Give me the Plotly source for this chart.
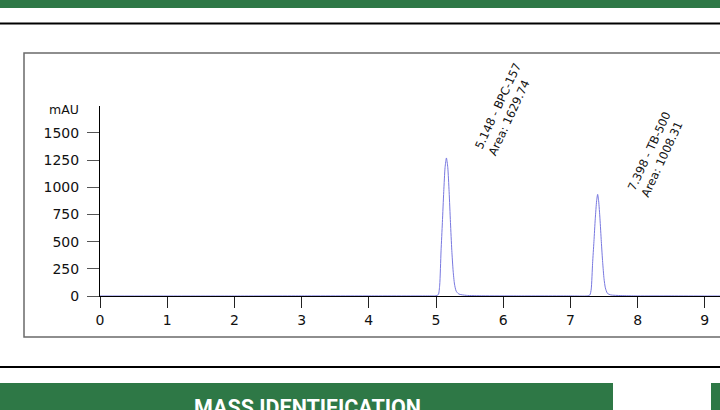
import plotly.graph_objects as go

# chromatogram trace (retention time in min, signal in mAU)
time_min = [0.0, 1.0, 2.0, 3.0, 4.0, 4.9, 5.0, 5.035, 5.055, 5.075, 5.095, 5.115, 5.135,
            5.155, 5.175, 5.195, 5.215, 5.235, 5.255, 5.275, 5.30, 5.34, 5.45, 5.7,
            6.2, 7.0, 7.25, 7.29, 7.31, 7.33, 7.35, 7.37, 7.39, 7.405, 7.42, 7.44,
            7.46, 7.48, 7.50, 7.52, 7.55, 7.60, 7.75, 8.0, 8.5, 9.0, 9.3]
signal_mau = [0, 0, 0, 1, 1, 1, 2, 14, 100, 415, 677, 960, 1184,
              1270, 1184, 960, 677, 420, 230, 110, 45, 18, 6, 2,
              1, 1, 1, 10, 65, 300, 500, 710, 875, 935, 875, 710,
              500, 310, 160, 75, 25, 10, 4, 1, 1, 0, 0]

# peak labels
peak_rt = [5.148, 7.398]
peak_name = ["BPC-157", "TB-500"]
peak_area = [1629.74, 1008.31]

x_ticks = [0, 1, 2, 3, 4, 5, 6, 7, 8, 9]
y_ticks = [0, 250, 500, 750, 1000, 1250, 1500]

W, H = 720, 410
L, R, T, B = 100, 0, 106, 114
X_MAX = 9.226
Y_MAX = 1748

GREEN = "#2e7846"
FONT = "DejaVu Sans"


def px(xp):
    # page pixel -> paper x
    return (xp - L) / (W - L - R)


def py(yp):
    # page pixel -> paper y
    return (H - B - yp) / (H - T - B)


fig = go.Figure()
fig.add_trace(go.Scatter(x=time_min, y=signal_mau, mode="lines",
                         line=dict(color="#7878e0", width=1, shape="spline", smoothing=0.6),
                         hoverinfo="x+y", showlegend=False))

# rotated peak annotations
label_pos = [(6.02, 1718), (8.27, 1305)]
for rt, name, area, (lx, ly) in zip(peak_rt, peak_name, peak_area, label_pos):
    fig.add_annotation(x=lx, y=ly, xref="x", yref="y", showarrow=False,
                       text=f"{rt:.3f} - {name}<br>Area: {area:.2f}",
                       textangle=-65, align="left",
                       font=dict(family=FONT, size=11.5, color="#111"))

fig.add_annotation(x=px(81), y=py(110), xref="paper", yref="paper", showarrow=False,
                   text="mAU", xanchor="right", yanchor="middle",
                   font=dict(family=FONT, size=12.5, color="#111"))

shapes = [
    # green band on top
    dict(type="rect", xref="paper", yref="paper", x0=px(-5), x1=px(730), y0=py(-5), y1=py(8),
         fillcolor=GREEN, line=dict(width=0), layer="below"),
    # rule lines
    dict(type="line", xref="paper", yref="paper", x0=px(0), x1=px(720), y0=py(23.5), y1=py(23.5),
         line=dict(color="black", width=2)),
    dict(type="line", xref="paper", yref="paper", x0=px(0), x1=px(720), y0=py(367), y1=py(367),
         line=dict(color="black", width=2)),
    # chart frame
    dict(type="rect", xref="paper", yref="paper", x0=px(24), x1=px(730), y0=py(53), y1=py(337),
         fillcolor="rgba(0,0,0,0)", line=dict(color="#6a6a6a", width=1.5), layer="below"),
    # section header boxes
    dict(type="rect", xref="paper", yref="paper", x0=px(-5), x1=px(613), y0=py(383), y1=py(420),
         fillcolor=GREEN, line=dict(width=0), layer="below"),
    dict(type="rect", xref="paper", yref="paper", x0=px(711), x1=px(730), y0=py(383), y1=py(420),
         fillcolor=GREEN, line=dict(width=0), layer="below"),
]

fig.add_annotation(x=px(307), y=py(407), xref="paper", yref="paper", showarrow=False,
                   text="<b>MASS IDENTIFICATION</b>", xanchor="center", yanchor="middle",
                   font=dict(family="Roboto", size=21.5, color="white"))

fig.update_layout(
    width=W, height=H,
    margin=dict(l=L, r=R, t=T, b=B),
    paper_bgcolor="white", plot_bgcolor="white",
    font=dict(family=FONT, size=14, color="#111"),
    shapes=shapes,
    xaxis=dict(range=[0, X_MAX], tickvals=x_ticks, ticks="outside", ticklen=11,
               tickcolor="#222", showline=True, linecolor="black", linewidth=1,
               showgrid=False, zeroline=False, tickfont=dict(size=14)),
    yaxis=dict(range=[0, Y_MAX], tickvals=y_ticks, ticks="outside", ticklen=12,
               tickcolor="#555", showline=True, linecolor="black", linewidth=1,
               showgrid=False, zeroline=False, tickfont=dict(size=14),
               ticklabelstandoff=5),
)

fig.write_html("out.html", config={"displayModeBar": False},
               post_script="document.body.style.margin='0';")
